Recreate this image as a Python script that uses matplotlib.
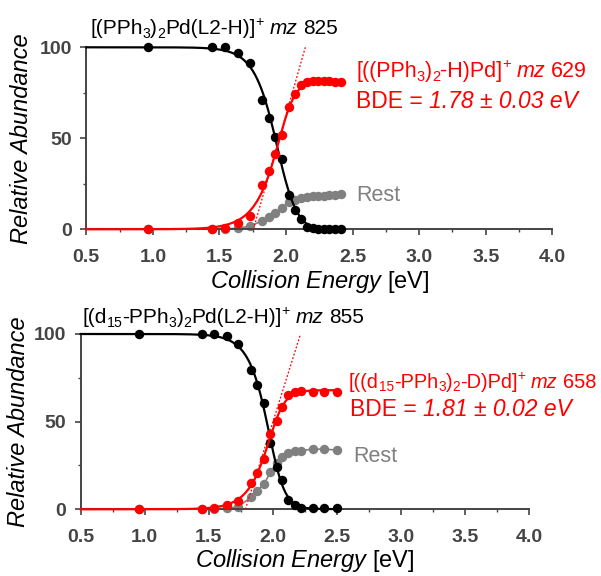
import numpy as np
import matplotlib
matplotlib.use("Agg")
import matplotlib.pyplot as plt
from matplotlib.ticker import MultipleLocator

plt.rcParams['font.family'] = ['Liberation Sans', 'DejaVu Sans']
plt.rcParams['mathtext.fontset'] = 'custom'
plt.rcParams['mathtext.rm'] = 'Liberation Sans'
plt.rcParams['mathtext.it'] = 'Liberation Sans:italic'

# ---- upper panel: [(PPh3)2Pd(L2-H)]+ ----
energy_h = [0.96, 1.445, 1.54, 1.64, 1.73, 1.82, 1.875, 1.92, 1.97, 2.02,
            2.07, 2.11, 2.155, 2.20, 2.24, 2.285, 2.325, 2.37, 2.41]
parent_h = [100, 100, 100, 96.9, 91.6, 71.3, 61.2, 50.8, 38.6, 18.6,
            10.6, 5.5, 1.5, 0.5, 0.3, 0.2, 0.2, 0.2, 0.2]
product_h = [0, 0.3, 0.8, 3.6, 7.5, 24.1, 32.2, 41.1, 51.6, 67.3,
             74.2, 79.2, 80.9, 81.5, 81.6, 81.5, 81.3, 81.0, 80.7]
rest_h = [0.3, 0.3, 0.3, 0.5, 1.8, 4.6, 6.8, 8.8, 11.5, 15.0,
          16.2, 17.2, 17.8, 18.2, 18.3, 18.5, 18.7, 18.9, 19.2]
onset_h = [1.755, 2.145]   # linear onset extrapolation, 0 -> 100 %

# ---- lower panel: [(d15-PPh3)2Pd(L2-H)]+ ----
energy_d = [0.955, 1.45, 1.54, 1.64, 1.73, 1.83, 1.875, 1.93, 1.98, 2.03,
            2.07, 2.12, 2.17, 2.22, 2.31, 2.40, 2.50]
parent_d = [100, 100, 100, 99.0, 94.3, 79.5, 70.9, 60.5, 37.6, 24.3,
            16.5, 5.5, 2.4, 1.0, 0.5, 0.5, 0.5]
product_d = [0, 0.3, 0.5, 2.5, 4.8, 14.8, 20.9, 28.9, 42.8, 50.5,
             58.2, 65.0, 67.1, 67.5, 67.1, 67.1, 67.1]
rest_d = [0.3, 0.3, 0.3, 0.5, 1.5, 7.0, 10.5, 14.5, 21.0, 26.3,
          30.0, 31.9, 33.0, 33.5, 34.3, 34.3, 33.8]
onset_d = [1.785, 2.215]

x_ticks = [0.5, 1.0, 1.5, 2.0, 2.5, 3.0, 3.5, 4.0]
y_ticks = [0, 50, 100]

RED = '#ff0000'
GREY = '#808080'
AXC = '#444444'
W, H = 601, 576


def fit_rise(E, target):
    """Least-squares generalised logistic  A * S(E)  (grid search over shape)."""
    E = np.asarray(E, float)
    t = np.asarray(target, float)
    e0 = np.linspace(1.70, 2.15, 91)[:, None, None, None]
    w = np.linspace(0.015, 0.20, 75)[None, :, None, None]
    nu = np.geomspace(0.15, 6.0, 41)[None, None, :, None]
    S = (1.0 + nu * np.exp(-(E - e0) / w)) ** (-1.0 / nu)
    A = (S * t).sum(axis=-1, keepdims=True) / (S * S).sum(axis=-1, keepdims=True)
    err = ((A * S - t) ** 2).sum(axis=-1)
    i, j, k = np.unravel_index(np.argmin(err), err.shape)
    c, ww, n, a = e0.ravel()[i], w.ravel()[j], nu.ravel()[k], A[i, j, k, 0]
    return lambda x: a * (1.0 + n * np.exp(-(x - c) / ww)) ** (-1.0 / n)


def runs_text(fig, x, y, runs, fs, color):
    """Draw rich text as consecutive runs; (x, y) = left baseline in pixels from top-left."""
    r = fig.canvas.get_renderer()
    px = fs * fig.dpi / 72.0
    for txt, kind in runs:
        if kind == 'sp':
            x += 0.278 * px
            continue
        size = fs * 0.68 if kind in ('sub', 'sup') else fs
        dy = {'sub': -0.17 * px, 'sup': 0.40 * px}.get(kind, 0.0)
        t = fig.text(x / W, (H - y + dy) / H, txt, fontsize=size,
                     style='italic' if kind == 'i' else 'normal',
                     color=color, ha='left', va='baseline')
        x += t.get_window_extent(r).width


def panel(ax, E, parent, product, rest, onset):
    E = np.asarray(E, float)
    loss = fit_rise(E, 100.0 - np.asarray(parent, float))
    gain = fit_rise(E, product)
    xs = np.linspace(0.5, E[-1], 600)
    ax.plot(xs, 100.0 - loss(xs), color='black', lw=1.6, zorder=4, clip_on=False)
    ax.plot(xs, gain(xs), color=RED, lw=1.6, zorder=5, clip_on=False)
    ax.plot(np.concatenate([[0.5], E]), np.concatenate([[rest[0]], rest]),
            color=GREY, lw=1.2, zorder=2, clip_on=False)
    ax.plot(onset, [0, 100], color=RED, lw=0.9, ls=(0, (1.5, 1.5)), zorder=3)

    ms = 6.8
    ax.plot(E, rest, 'o', color=GREY, ms=ms, mec='none', zorder=2.5, clip_on=False)
    ax.plot(E, parent, 'o', color='black', ms=ms, mec='none', zorder=4.5, clip_on=False)
    ax.plot(E, product, 'o', color=RED, ms=ms, mec='none', zorder=5.5, clip_on=False)

    ax.set_xlim(0.5, 4.0)
    ax.set_ylim(0, 100)
    ax.set_xticks(x_ticks)
    ax.set_xticklabels([f'{v:.1f}' for v in x_ticks])
    ax.set_yticks(y_ticks)
    ax.xaxis.set_minor_locator(MultipleLocator(0.25))
    ax.yaxis.set_minor_locator(MultipleLocator(25))
    for sp in ('top', 'right'):
        ax.spines[sp].set_visible(False)
    for sp in ('left', 'bottom'):
        ax.spines[sp].set_color(AXC)
        ax.spines[sp].set_linewidth(1.4)
    ax.tick_params(which='major', direction='out', length=4.5, width=1.2,
                   color=AXC, labelcolor=AXC, labelsize=14)
    ax.tick_params(axis='x', which='major', pad=10)
    ax.tick_params(axis='y', which='major', pad=6)
    ax.tick_params(which='minor', direction='out', length=2.5, width=1.0, color=AXC)
    for lab in ax.get_xticklabels() + ax.get_yticklabels():
        lab.set_fontweight('bold')

    ax.set_xlabel(r'$\mathit{Collision\ Energy}$ [eV]', fontsize=17)
    ax.set_ylabel('Relative Abundance', fontsize=17, style='italic')


fig = plt.figure(figsize=(6.01, 5.76), dpi=100)

ax1 = fig.add_axes([86.3 / W, 1 - 229.3 / H, (552.3 - 86.3) / W, (229.3 - 47.3) / H])
ax2 = fig.add_axes([80.7 / W, 1 - 509.3 / H, (529.3 - 80.7) / W, (509.3 - 334.0) / H])

panel(ax1, energy_h, parent_h, product_h, rest_h, onset_h)
panel(ax2, energy_d, parent_d, product_d, rest_d, onset_d)

for ax, bottom_px, h_ax, w_ax, ylab_px, left_px, xlab_px in (
        (ax1, 229.3, 182.0, 466.0, 282.0, 86.3, 21.7),
        (ax2, 509.3, 175.3, 448.6, 561.0, 80.7, 18.3)):
    ax.xaxis.set_label_coords(0.5, (bottom_px - ylab_px) / h_ax)
    ax.xaxis.label.set_va('center')
    ax.yaxis.set_label_coords((xlab_px - left_px) / w_ax, 0.5)
    ax.yaxis.label.set_va('center')

# panel headings and annotations
runs_text(fig, 90, 34, [('[(PPh', 'n'), ('3', 'sub'), (')', 'n'), ('2', 'sub'),
                        ('Pd(L2-H)]', 'n'), ('+', 'sup'), ('', 'sp'), ('mz', 'i'),
                        ('', 'sp'), ('825', 'n')], 15, 'black')
runs_text(fig, 356, 77, [('[((PPh', 'n'), ('3', 'sub'), (')', 'n'), ('2', 'sub'),
                         ('-H)Pd]', 'n'), ('+', 'sup'), ('', 'sp'), ('mz', 'i'),
                         ('', 'sp'), ('629', 'n')], 15.5, RED)
runs_text(fig, 356, 107.5, [('BDE =', 'n'), ('', 'sp'), ('1.78 ± 0.03 eV', 'i')], 16.5, RED)
runs_text(fig, 356, 201, [('Rest', 'n')], 15.5, GREY)

runs_text(fig, 82, 323, [('[(d', 'n'), ('15', 'sub'), ('-PPh', 'n'), ('3', 'sub'),
                         (')', 'n'), ('2', 'sub'), ('Pd(L2-H)]', 'n'), ('+', 'sup'),
                         ('', 'sp'), ('mz', 'i'), ('', 'sp'), ('855', 'n')], 15, 'black')
runs_text(fig, 349, 388, [('[((d', 'n'), ('15', 'sub'), ('-PPh', 'n'), ('3', 'sub'),
                          (')', 'n'), ('2', 'sub'), ('-D)Pd]', 'n'), ('+', 'sup'),
                          ('', 'sp'), ('mz', 'i'), ('', 'sp'), ('658', 'n')], 14.4, RED)
runs_text(fig, 350, 415.5, [('BDE =', 'n'), ('', 'sp'), ('1.81 ± 0.02 eV', 'i')], 16.5, RED)
runs_text(fig, 353, 462.5, [('Rest', 'n')], 15.5, GREY)

fig.savefig('out.png', dpi=100)
